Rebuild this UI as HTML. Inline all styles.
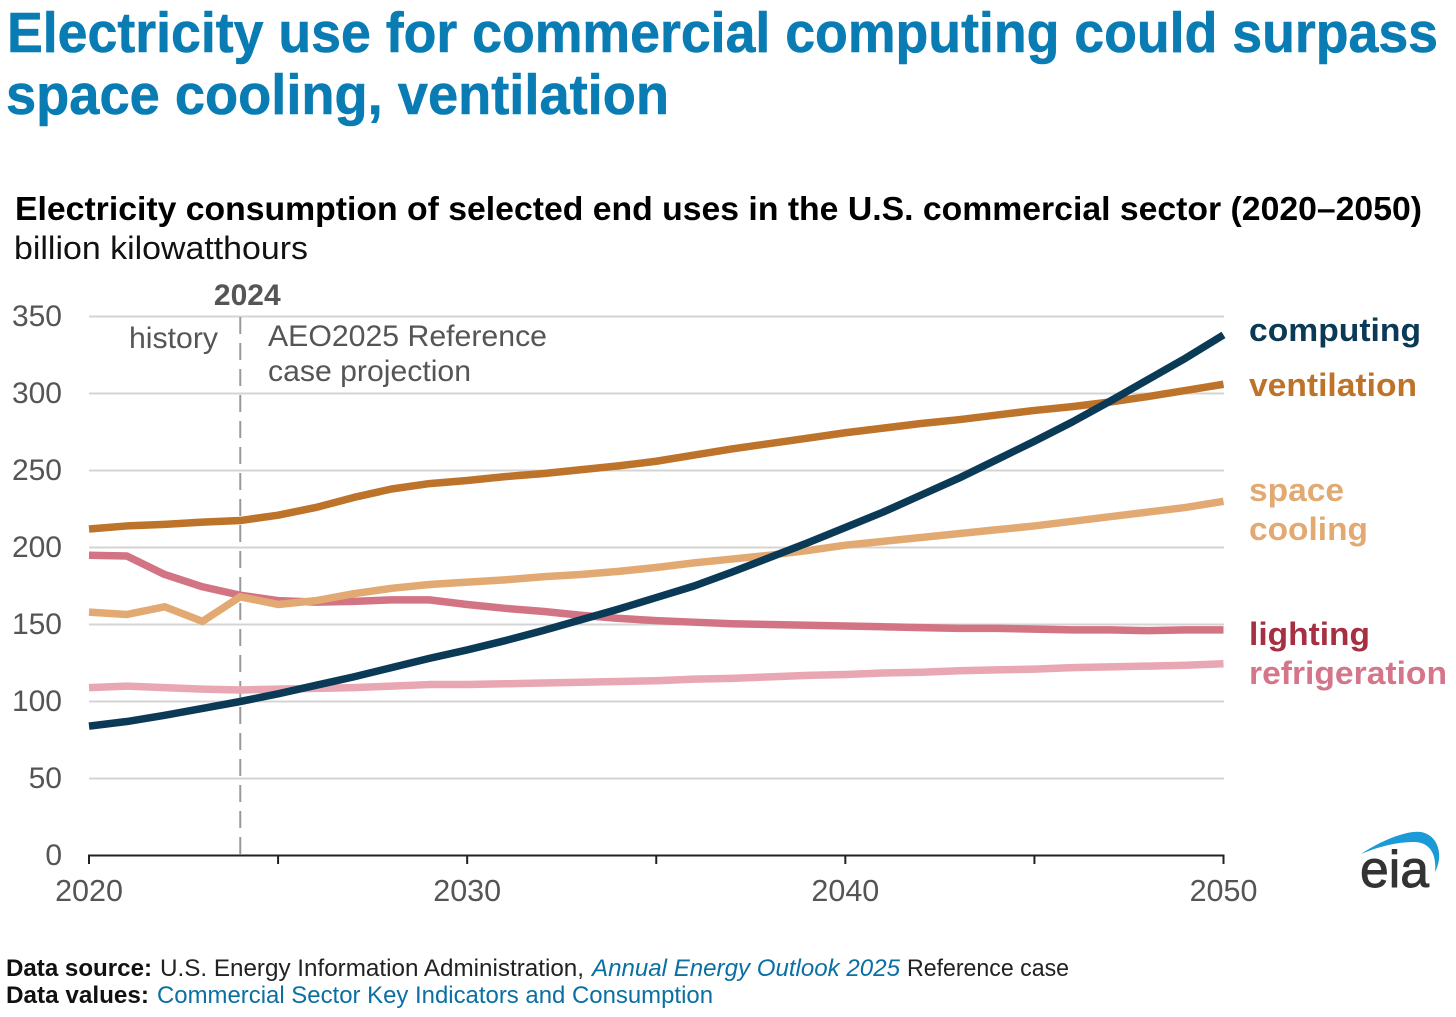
<!DOCTYPE html>
<html lang="en">
<head>
<meta charset="utf-8">
<title>Electricity use for commercial computing</title>
<style>
html,body{margin:0;padding:0;background:#fff;width:1456px;height:1017px;overflow:hidden}
svg{display:block;font-family:"Liberation Sans",sans-serif}
</style>
</head>
<body>
<svg id="chart" xmlns="http://www.w3.org/2000/svg" width="1456" height="1017" viewBox="0 0 1456 1017">
  <rect width="1456" height="1017" fill="#fff"/>
  <text x="7" y="52" font-size="57" font-weight="700" fill="#0a7cb4" stroke="#0a7cb4" stroke-width="0.6" textLength="1431" lengthAdjust="spacingAndGlyphs">Electricity use for commercial computing could surpass</text>
  <text x="6" y="114" font-size="57" font-weight="700" fill="#0a7cb4" stroke="#0a7cb4" stroke-width="0.6" textLength="663" lengthAdjust="spacingAndGlyphs">space cooling, ventilation</text>
  <text x="15" y="220" font-size="33" font-weight="700" fill="#000" textLength="1407" lengthAdjust="spacingAndGlyphs">Electricity consumption of selected end uses in the U.S. commercial sector (2020–2050)</text>
  <text x="14" y="259" font-size="32" fill="#111" textLength="294" lengthAdjust="spacingAndGlyphs">billion kilowatthours</text>

  <g id="grid"></g>
  <g id="yticks"></g>
  <g id="xaxis"></g>
  <g id="annot"></g>
  <g id="lines"></g>

  <text x="1249" y="341" font-size="32" font-weight="700" fill="#0b3a57" textLength="172" lengthAdjust="spacingAndGlyphs">computing</text>
  <text x="1249" y="396" font-size="32" font-weight="700" fill="#bd732a" textLength="168" lengthAdjust="spacingAndGlyphs">ventilation</text>
  <text x="1249" y="501" font-size="32" font-weight="700" fill="#e2aa72" textLength="95" lengthAdjust="spacingAndGlyphs">space</text>
  <text x="1249" y="540" font-size="32" font-weight="700" fill="#e2aa72" textLength="119" lengthAdjust="spacingAndGlyphs">cooling</text>
  <text x="1249" y="645" font-size="32" font-weight="700" fill="#a62f41" textLength="121" lengthAdjust="spacingAndGlyphs">lighting</text>
  <text x="1249" y="684" font-size="32" font-weight="700" fill="#d5758a" textLength="198" lengthAdjust="spacingAndGlyphs">refrigeration</text>

  <g>
    <path d="M1361 854 C1385 838 1410 830 1421 832 C1438 835 1444 855 1435 872 C1437 852 1428 842 1414 842 C1398 842 1380 846 1361 854 Z" fill="#1a9ad6"/>
    <text x="1360" y="887" font-size="52" font-weight="400" fill="#333" stroke="#333" stroke-width="0.9" textLength="69" lengthAdjust="spacingAndGlyphs">eia</text>
  </g>

  <text x="6" y="976" font-size="24" font-weight="700" fill="#111" textLength="146" lengthAdjust="spacingAndGlyphs">Data source:</text>
  <text x="160" y="976" font-size="24" fill="#222" textLength="424" lengthAdjust="spacingAndGlyphs">U.S. Energy Information Administration,</text>
  <text x="592" y="976" font-size="24" font-style="italic" fill="#0a6fa3" textLength="308" lengthAdjust="spacingAndGlyphs">Annual Energy Outlook 2025</text>
  <text x="907" y="976" font-size="24" fill="#222" textLength="162" lengthAdjust="spacingAndGlyphs">Reference case</text>
  <text x="6" y="1003" font-size="24" font-weight="700" fill="#111" textLength="143" lengthAdjust="spacingAndGlyphs">Data values:</text>
  <text x="157" y="1003" font-size="24" fill="#0a6fa3" textLength="556" lengthAdjust="spacingAndGlyphs">Commercial Sector Key Indicators and Consumption</text>
</svg>

<script>
var years = [2020,2021,2022,2023,2024,2025,2026,2027,2028,2029,2030,2031,2032,2033,2034,2035,2036,2037,2038,2039,2040,2041,2042,2043,2044,2045,2046,2047,2048,2049,2050];
var refrigeration = [109,110,109,108,107.5,108,108.5,109,110,111,111,111.5,112,112.5,113,113.5,114.5,115,116,117,117.5,118.5,119,120,120.5,121,122,122.5,123,123.5,124.5];
var lighting = [195,194.5,182.5,174.5,169,165.5,164.5,165,166,166,163,160.5,158.5,156,154,152.5,151.5,150.5,150,149.5,149,148.5,148,147.5,147.5,147,146.5,146.5,146,146.5,146.5];
var spaceCooling = [158,156.5,161.5,152,168,163,165.5,170,173.5,176,177.5,179,181,182.5,184.5,187,190,192.5,195,198,201.5,204,206.5,209,211.5,214,217,220,223,226,230];
var ventilation = [212,214,215,216.5,217.5,221,226,232.5,238,241.5,243.5,246,248,250.5,253,256,260,264,267.5,271,274.5,277.5,280.5,283,286,289,291.5,294.5,298,302,306];
var computing = [84,87,91,95.5,100,105,110.5,116,122,128,133.5,139.5,146,153,160,167.5,175,184,193.5,203,213,223,234,245,257,269,281.5,295,309,323,338];
var yTickValues = [0,50,100,150,200,250,300,350];
var xMinorTicks = [2020,2025,2030,2035,2040,2045,2050];
var xLabelTicks = [2020,2030,2040,2050];
var dividerYear = 2024;

var NS = 'http://www.w3.org/2000/svg';
function xScale(year){ return 89 + (year - 2020) * (1223.5 - 89) / 30; }
function yScale(v){ return 855.5 - v * (855.5 - 316.5) / 350; }
function make(parent, tag, attrs, text){
  var el = document.createElementNS(NS, tag);
  for (var k in attrs) el.setAttribute(k, attrs[k]);
  if (text !== undefined) el.textContent = text;
  parent.appendChild(el);
  return el;
}

var grid = document.getElementById('grid');
var yticks = document.getElementById('yticks');
yTickValues.forEach(function(v){
  if (v !== 0) {
    var g = make(grid, 'line', {x1:89, x2:1224, y1:yScale(v), y2:yScale(v), stroke:'#d4d4d4', 'stroke-width':2});
    
    
  }
  var t = make(yticks, 'text', {x:62, y:yScale(v) + 9.5, 'text-anchor':'end', 'font-size':30, fill:'#555'}, String(v));
  
  
});

var xaxis = document.getElementById('xaxis');
var axisLine = make(xaxis, 'line', {x1:88, x2:1224.5, y1:855.5, y2:855.5, stroke:'#222', 'stroke-width':2});


xMinorTicks.forEach(function(yr){
  var m = make(xaxis, 'line', {x1:xScale(yr), x2:xScale(yr), y1:855.5, y2:864, stroke:'#222', 'stroke-width':2});
  
  
});
xLabelTicks.forEach(function(yr){
  var l = make(xaxis, 'text', {x:xScale(yr), y:901, 'text-anchor':'middle', 'font-size':30.5, fill:'#555'}, String(yr));
  
  
});

var annot = document.getElementById('annot');
var divider = make(annot, 'line', {x1:xScale(dividerYear), x2:xScale(dividerYear), y1:317, y2:855, stroke:'#999', 'stroke-width':2, 'stroke-dasharray':'17 9'});


var dividerLabel = make(annot, 'text', {x:xScale(dividerYear) + 7, y:305, 'text-anchor':'middle', 'font-size':30, 'font-weight':700, fill:'#555'}, String(dividerYear));


var hist = make(annot, 'text', {x:129, y:348, 'font-size':30, fill:'#555', textLength:89, lengthAdjust:'spacingAndGlyphs'}, 'history');


var proj1 = make(annot, 'text', {x:268, y:346, 'font-size':30, fill:'#555', textLength:279, lengthAdjust:'spacingAndGlyphs'}, 'AEO2025 Reference');


var proj2 = make(annot, 'text', {x:268, y:381, 'font-size':30, fill:'#555', textLength:203, lengthAdjust:'spacingAndGlyphs'}, 'case projection');



var linesGroup = document.getElementById('lines');
function drawSeries(values, color, name){
  var d = values.map(function(v, i){
    return (i ? 'L' : 'M') + xScale(years[i]).toFixed(2) + ' ' + yScale(v).toFixed(2);
  }).join(' ');
  var p = make(linesGroup, 'path', {d:d, fill:'none', stroke:color, 'stroke-width':7.5, 'stroke-linejoin':'round'});
  
  
}
drawSeries(refrigeration, '#e8a7b2', 'line-refrigeration');
drawSeries(lighting, '#d27484', 'line-lighting');
drawSeries(spaceCooling, '#e2aa72', 'line-space-cooling');
drawSeries(ventilation, '#bd732a', 'line-ventilation');
drawSeries(computing, '#0b3a57', 'line-computing');
</script>
</body>
</html>
